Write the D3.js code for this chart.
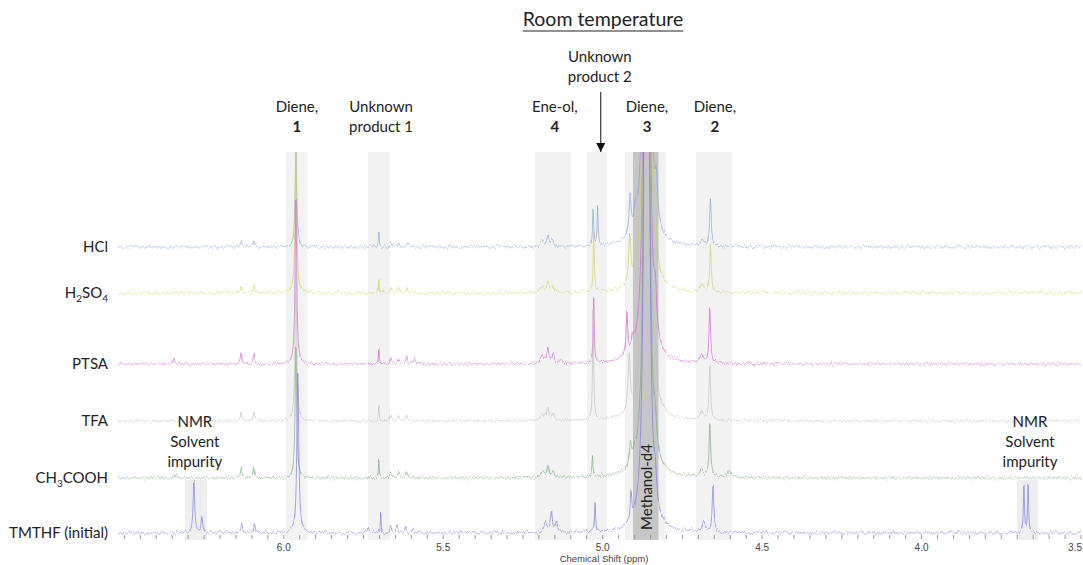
<!DOCTYPE html>
<html>
<head>
<meta charset="utf-8">
<script src="https://cdnjs.cloudflare.com/ajax/libs/d3/7.8.5/d3.min.js"></script>
<style>
  html, body { margin: 0; padding: 0; background: #fff; }
  svg { display: block; }
  .lbl { font-family: Lato, "Open Sans", sans-serif; fill: #222; }
  .axis text { font-family: "Liberation Sans", Arial, sans-serif; font-size: 10px; fill: #444; }
</style>
</head>
<body>
<div id="chart"></div>
<script>
// sample names, top trace first
let samples = ['HCl', 'H2SO4', 'PTSA', 'TFA', 'CH3COOH', 'TMTHF (initial)'];
let traceColors = ['#7f9fd4', '#cfcf55', '#d25ad2', '#bdbdbd', '#78a878', '#7474ea'];
// vertical stacking of each spectrum (intensity units)
let stackOffset = [286, 240, 169, 112, 55, 0];

// peak lists: [shift (ppm), height, half width (ppm)]
let peaksHCl = [
  [6.134, 6, 0.003], [6.094, 6, 0.003], [5.962, 95, 0.003], [5.702, 15, 0.0015],
  [5.663, 4, 0.003], [5.640, 4, 0.003], [5.612, 4, 0.003],
  [5.190, 6, 0.006], [5.172, 10, 0.004], [5.158, 7, 0.004],
  [5.030, 36, 0.002], [5.016, 38, 0.002], [4.914, 38, 0.004], [4.898, 18, 0.004],
  [4.862, 2400, 0.004], [4.832, 40, 0.005], [4.688, 6, 0.006], [4.662, 48, 0.003]
];
let peaksH2SO4 = [
  [6.134, 6, 0.003], [6.094, 8, 0.003], [5.962, 150, 0.003], [5.702, 14, 0.0015],
  [5.663, 5, 0.003], [5.640, 5, 0.003], [5.615, 6, 0.003],
  [5.190, 6, 0.006], [5.172, 11, 0.004], [5.156, 6, 0.004],
  [5.028, 60, 0.002], [4.915, 45, 0.004],
  [4.862, 2400, 0.004], [4.835, 35, 0.005], [4.690, 8, 0.006], [4.662, 45, 0.003]
];
let peaksPTSA = [
  [6.345, 6, 0.003], [6.134, 11, 0.003], [6.094, 9, 0.003], [5.962, 165, 0.003],
  [5.702, 15, 0.0015], [5.665, 6, 0.003], [5.640, 5, 0.003], [5.615, 7, 0.003], [5.590, 5, 0.003],
  [5.190, 8, 0.006], [5.172, 15, 0.004], [5.155, 9, 0.004], [5.130, 4, 0.004],
  [5.028, 65, 0.002], [4.924, 41, 0.003], [4.906, 12, 0.004],
  [4.862, 2400, 0.004], [4.835, 40, 0.005], [4.690, 8, 0.006], [4.664, 54, 0.003]
];
let peaksTFA = [
  [6.134, 8, 0.003], [6.094, 9, 0.003], [5.962, 150, 0.003], [5.702, 15, 0.0015],
  [5.665, 6, 0.003], [5.640, 5, 0.003], [5.615, 6, 0.003],
  [5.190, 7, 0.006], [5.172, 12, 0.004], [5.155, 7, 0.004],
  [5.030, 110, 0.002], [4.917, 55, 0.004],
  [4.862, 2400, 0.004], [4.835, 30, 0.005], [4.690, 8, 0.006], [4.664, 54, 0.003]
];
let peaksCH3COOH = [
  [6.340, 4, 0.003], [6.134, 10, 0.003], [6.094, 10, 0.003], [5.962, 130, 0.003],
  [5.702, 17, 0.0015], [5.665, 6, 0.003], [5.640, 6, 0.003], [5.615, 6, 0.003],
  [5.190, 6, 0.006], [5.172, 12, 0.004], [5.155, 7, 0.004],
  [5.032, 20, 0.002], [4.913, 21, 0.004], [4.900, 10, 0.004],
  [4.862, 2400, 0.004], [4.835, 25, 0.005], [4.690, 8, 0.006], [4.664, 51, 0.003], [4.604, 8, 0.006]
];
let peaksTMTHF = [
  [6.282, 51, 0.003], [6.257, 16, 0.003], [6.132, 9, 0.003], [6.092, 10, 0.003],
  [5.956, 160, 0.0035], [5.736, 5, 0.003], [5.696, 20, 0.0015],
  [5.665, 7, 0.003], [5.645, 7, 0.003], [5.618, 6, 0.003], [5.595, 5, 0.003],
  [5.180, 10, 0.005], [5.161, 20, 0.004], [5.145, 10, 0.004],
  [5.024, 28, 0.002], [4.911, 26, 0.003],
  [4.862, 2400, 0.004], [4.835, 25, 0.005], [4.683, 10, 0.006], [4.654, 47, 0.003],
  [3.679, 47, 0.002], [3.666, 47, 0.002]
];
let peakLists = [peaksHCl, peaksH2SO4, peaksPTSA, peaksTFA, peaksCH3COOH, peaksTMTHF];

// assignment bands (ppm ranges)
let bandRanges = [
  [5.993, 5.926], [5.736, 5.667], [5.212, 5.099], [5.049, 4.987],
  [4.930, 4.802], [4.707, 4.595]
];
let solventBands = [[6.310, 6.241], [3.701, 3.635]];
let methanolBand = [4.905, 4.825];

let xTicks = [6.0, 5.5, 5.0, 4.5, 4.0, 3.5];
let xDomain = [6.52, 3.5];

let width = 1083, height = 565;

let svg = d3.select('#chart').append('svg')
    .attr('width', width)
    .attr('height', height);

let x = d3.scaleLinear().domain(xDomain).range([118, 1081]);
let y = d3.scaleLinear().domain([0, 381]).range([533, 152]);

let defs = svg.append('defs');
defs.append('clipPath').attr('id', 'plot-clip')
  .append('rect')
    .attr('x', x(xDomain[0])).attr('y', y(381))
    .attr('width', x(xDomain[1]) - x(xDomain[0]))
    .attr('height', height - y(381));

// jitter so the traces look like raw acquisitions
let noise = defs.append('filter').attr('id', 'acq-noise')
    .attr('filterUnits', 'userSpaceOnUse')
    .attr('x', 0).attr('y', 0).attr('width', width).attr('height', height);
noise.append('feTurbulence')
    .attr('type', 'fractalNoise')
    .attr('baseFrequency', '0.7 0.05')
    .attr('numOctaves', 2)
    .attr('seed', 7)
    .attr('result', 'turb');
noise.append('feColorMatrix')
    .attr('in', 'turb')
    .attr('type', 'matrix')
    .attr('values', '0 0 0 0 0.5  0 1 0 0 0  0 0 0 0 0  0 0 0 0 1')
    .attr('result', 'disp');
noise.append('feDisplacementMap')
    .attr('in', 'SourceGraphic')
    .attr('in2', 'disp')
    .attr('scale', 7)
    .attr('xChannelSelector', 'R')
    .attr('yChannelSelector', 'G');

// shaded assignment bands
svg.append('g').selectAll('rect')
  .data(bandRanges)
  .enter().append('rect')
    .attr('x', (d) => x(d[0]))
    .attr('width', (d) => x(d[1]) - x(d[0]))
    .attr('y', y(381))
    .attr('height', y(-7) - y(381))
    .attr('fill', '#f2f2f2');

svg.append('g').selectAll('rect')
  .data(solventBands)
  .enter().append('rect')
    .attr('x', (d) => x(d[0]))
    .attr('width', (d) => x(d[1]) - x(d[0]))
    .attr('y', y(53))
    .attr('height', y(-7) - y(53))
    .attr('fill', '#eeeeee');

svg.append('rect')
    .attr('x', x(methanolBand[0]))
    .attr('width', x(methanolBand[1]) - x(methanolBand[0]))
    .attr('y', y(381))
    .attr('height', y(-7) - y(381))
    .attr('fill', '#c6c6c6');

// lorentzian sum for one peak list
function spectrum(peaks) {
  let pts = [];
  for (let i = 0; i <= 3020; i++) {
    let ppm = xDomain[0] - i * 0.001;
    let v = 0;
    peaks.forEach((p) => {
      let t = (ppm - p[0]) / p[2];
      v += p[1] / (1 + t * t);
    });
    pts.push([ppm, v]);
  }
  return pts;
}

let line = d3.line()
    .x((d) => x(d[0]))
    .y((d) => y(d[1]));

let traces = svg.append('g')
    .attr('clip-path', 'url(#plot-clip)')
  .append('g')
    .attr('filter', 'url(#acq-noise)');

traces.selectAll('path')
  .data(samples)
  .enter().append('path')
    .attr('d', (d, i) => line(spectrum(peakLists[i]).map((p) => [p[0], p[1] + stackOffset[i]])))
    .attr('fill', 'none')
    .attr('stroke', (d, i) => traceColors[i])
    .attr('stroke-opacity', 0.65)
    .attr('stroke-width', 1);

// sample labels, digits set as subscripts
let labels = svg.append('g').attr('class', 'lbl');
samples.forEach((name, i) => {
  let t = labels.append('text')
      .attr('x', 108)
      .attr('y', y(stackOffset[i]) + 5)
      .attr('text-anchor', 'end')
      .style('font-size', '15px');
  let shifted = false;
  name.match(/[A-Za-z()\s]+|\d+/g).forEach((p) => {
    let span = t.append('tspan').text(p);
    if (/^\d+$/.test(p)) {
      span.style('font-size', '10px').attr('dy', 4);
      shifted = true;
    } else if (shifted) {
      span.attr('dy', -4);
      shifted = false;
    }
  });
});

// x axis: minor ticks every 0.05 ppm
let axis = svg.append('g').attr('class', 'axis');
axis.selectAll('line')
  .data(d3.range(0, 61).map((k) => 6.5 - k * 0.05))
  .enter().append('line')
    .attr('x1', (d) => x(d)).attr('x2', (d) => x(d))
    .attr('y1', 535).attr('y2', 539)
    .attr('stroke', '#9a9a9a');
axis.selectAll('text')
  .data(xTicks)
  .enter().append('text')
    .attr('x', (d, i) => i === xTicks.length - 1 ? x(d) + 1 : x(d))
    .attr('y', 551)
    .attr('text-anchor', (d, i) => i === xTicks.length - 1 ? 'end' : 'middle')
    .text((d) => d3.format('.1f')(d));
axis.append('text')
    .attr('x', 604)
    .attr('y', 562)
    .attr('text-anchor', 'middle')
    .style('font-size', '9.5px')
    .text('Chemical Shift (ppm)');

// title
let title = svg.append('text')
    .attr('class', 'lbl')
    .attr('x', 603).attr('y', 26)
    .attr('text-anchor', 'middle')
    .style('font-size', '19.5px')
    .text('Room temperature');
let tb = title.node().getBBox();
svg.append('line')
    .attr('x1', tb.x).attr('x2', tb.x + tb.width)
    .attr('y1', 31).attr('y2', 31)
    .attr('stroke', '#222').attr('stroke-width', 1.2);

// band headings
let headings = [
  { ppm: 5.959, lines: ['Diene,', '1'], top: 107 },
  { ppm: 5.695, lines: ['Unknown', 'product 1'], top: 107 },
  { ppm: 5.150, lines: ['Ene-ol,', '4'], top: 107 },
  { ppm: 5.009, lines: ['Unknown', 'product 2'], top: 57 },
  { ppm: 4.861, lines: ['Diene,', '3'], top: 107 },
  { ppm: 4.648, lines: ['Diene,', '2'], top: 107 },
  { ppm: 6.279, lines: ['NMR', 'Solvent', 'impurity'], top: 422 },
  { ppm: 3.660, lines: ['NMR', 'Solvent', 'impurity'], top: 422 }
];
let hg = svg.append('g').attr('class', 'lbl');
headings.forEach((h) => {
  h.lines.forEach((s, k) => {
    hg.append('text')
        .attr('x', x(h.ppm))
        .attr('y', h.top + k * 20 + 5)
        .attr('text-anchor', 'middle')
        .style('font-size', '15px')
        .style('font-weight', /^\d$/.test(s) ? 'bold' : 'normal')
        .text(s);
  });
});

// arrow to unknown product 2
defs.append('marker')
    .attr('id', 'arrowhead')
    .attr('viewBox', '0 0 10 10')
    .attr('refX', 10).attr('refY', 5)
    .attr('markerWidth', 9).attr('markerHeight', 9)
    .attr('markerUnits', 'userSpaceOnUse')
    .attr('orient', 'auto')
  .append('path')
    .attr('d', 'M0,0L10,5L0,10Z')
    .attr('fill', '#111');
svg.append('line')
    .attr('x1', x(5.006)).attr('x2', x(5.006))
    .attr('y1', 92).attr('y2', 152)
    .attr('stroke', '#111').attr('stroke-width', 1)
    .attr('marker-end', 'url(#arrowhead)');

// solvent label inside the dark band
svg.append('text')
    .attr('class', 'lbl')
    .attr('transform', 'translate(' + (x(4.862) + 5) + ',487) rotate(-90)')
    .attr('text-anchor', 'middle')
    .style('font-size', '15px')
    .text('Methanol-d4');
</script>
</body>
</html>
